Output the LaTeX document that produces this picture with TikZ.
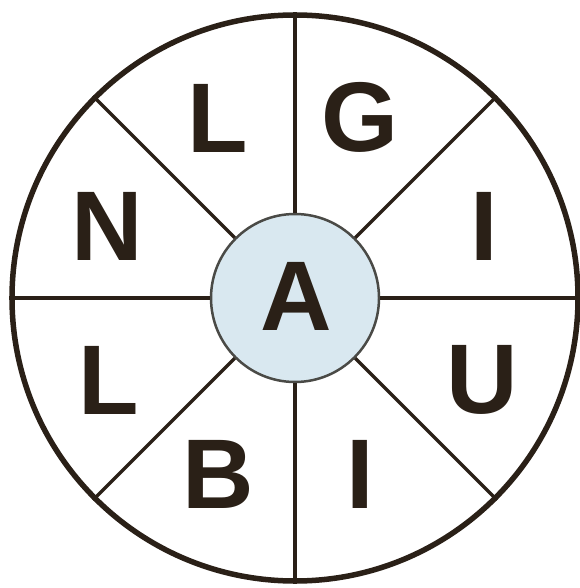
\documentclass[tikz,border=0pt]{standalone}
\usepackage{fontspec}
\setmainfont{Liberation Sans}
\usepackage{xcolor}
\definecolor{Ink}{HTML}{2A2017}
\definecolor{HubBlue}{HTML}{D9E8F0}
\definecolor{HubLine}{HTML}{4A4A46}
\tikzset{
 rim/.style={circle, draw=Ink, line width=5.5pt, minimum size=566pt, inner sep=0pt},
 hub/.style={circle, draw=HubLine, line width=2.5pt, fill=HubBlue, minimum size=168pt, inner sep=0pt},
 spoke/.style={draw=Ink, line width=3.5pt},
 letter/.style={font=\fontsize{99}{99}\selectfont\bfseries, text=Ink, inner sep=0pt}
}

\begin{document}
\begin{tikzpicture}[x=1pt,y=-1pt]
\useasboundingbox (0,0) rectangle (579,588);
\node[rim] (wheel) at (295,298) {};
\node[hub] (hub) at (295,298) {};
\foreach \a in {0,45,...,315}
 \draw[spoke] (hub.\a) -- (wheel.\a);
\node[letter] (center) at (296,296) {A};
\node[letter] (topL) at (218,118) {L};
\node[letter] (topG) at (360,117) {G};
\node[letter] (leftN) at (107,226) {N};
\node[letter] (rightI) at (484,226) {I};
\node[letter] (leftL) at (109,380) {L};
\node[letter] (rightU) at (482,380) {U};
\node[letter] (bottomB) at (218,474) {B};
\node[letter] (bottomI) at (360,474) {I};
\end{tikzpicture}
\end{document}
